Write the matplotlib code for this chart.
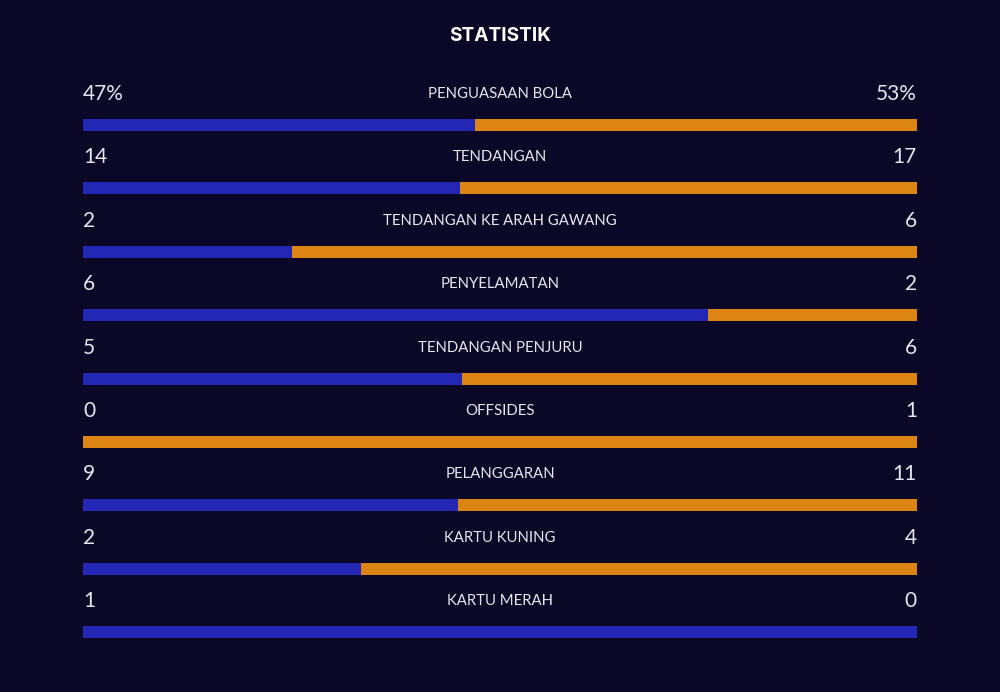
import matplotlib.pyplot as plt

plt.rcParams["font.family"] = ["Lato", "DejaVu Sans"]

stats = ["PENGUASAAN BOLA", "TENDANGAN", "TENDANGAN KE ARAH GAWANG", "PENYELAMATAN",
         "TENDANGAN PENJURU", "OFFSIDES", "PELANGGARAN", "KARTU KUNING", "KARTU MERAH"]
home = [47, 14, 2, 6, 5, 0, 9, 2, 1]
away = [53, 17, 6, 2, 6, 1, 11, 4, 0]
home_labels = ["47%", "14", "2", "6", "5", "0", "9", "2", "1"]
away_labels = ["53%", "17", "6", "2", "6", "1", "11", "4", "0"]

bg = "#0a0826"
blue = "#2426b4"
orange = "#dc8414"
txt = "#e6e6ee"

fig = plt.figure(figsize=(10, 6.92), dpi=100, facecolor=bg)
ax = fig.add_axes([0.083, 0, 0.834, 1])
ax.set_facecolor(bg)
ax.set_xlim(0, 1)
ax.set_ylim(692, 0)
ax.axis("off")

row0, step = 125, 63.4
for i, name in enumerate(stats):
    y = row0 + step * i
    total = home[i] + away[i]
    share = home[i] / total
    ax.barh(y, share, height=12, left=0, color=blue, linewidth=0)
    ax.barh(y, 1 - share, height=12, left=share, color=orange, linewidth=0)
    ty = y - 31
    ax.text(0, ty, home_labels[i], ha="left", va="center", fontsize=15, color=txt)
    ax.text(1, ty, away_labels[i], ha="right", va="center", fontsize=15, color=txt)
    ax.text(0.5, ty, name, ha="center", va="center", fontsize=10.7, color=txt)

fig.text(0.5, 1 - 36 / 692, "STATISTIK", ha="center", va="center", fontsize=13.7,
         fontweight="bold", color="white", family=["Inter", "DejaVu Sans"])

fig.savefig("out.png", facecolor=bg)
